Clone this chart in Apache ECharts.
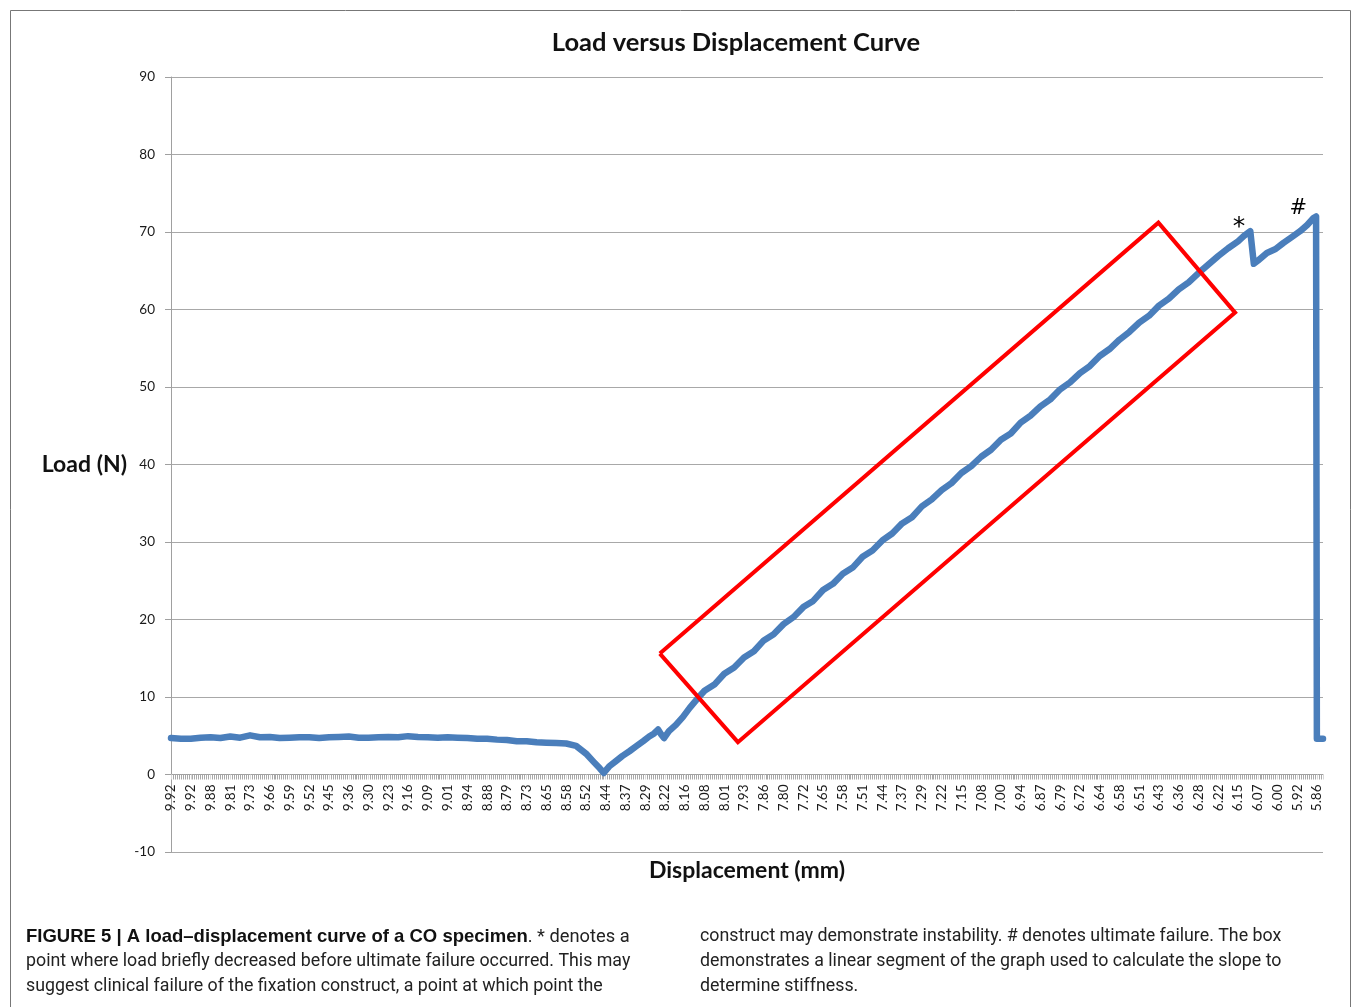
<!DOCTYPE html>
<html><head><meta charset="utf-8">
<script src="https://cdn.jsdelivr.net/npm/echarts@6/dist/echarts.min.js"></script>
<style>html,body{margin:0;padding:0;background:#fff}#c{width:1355px;height:1007px}</style>
</head><body><div id="c"></div>
<script>
// Category tick labels of the displacement axis (mm), one per labelled position
const tickLabels = ['9.92','9.92','9.88','9.81','9.73','9.66','9.59','9.52','9.45','9.36',
  '9.30','9.23','9.16','9.09','9.01','8.94','8.88','8.79','8.73','8.65',
  '8.58','8.52','8.44','8.37','8.29','8.22','8.16','8.08','8.01','7.93',
  '7.86','7.80','7.72','7.65','7.58','7.51','7.44','7.37','7.29','7.22',
  '7.15','7.08','7.00','6.94','6.87','6.79','6.72','6.64','6.58','6.51',
  '6.43','6.36','6.28','6.22','6.15','6.07','6.00','5.92','5.86'];

// Curve: [position along displacement axis (label index units), load (N)]
const curve = [
  [0,4.7],[0.5,4.6],[1,4.6],[1.5,4.75],[2,4.8],[2.5,4.7],[3,4.9],[3.5,4.75],[4,5.05],[4.5,4.8],
  [5,4.85],[5.5,4.7],[6,4.75],[6.5,4.8],[7,4.8],[7.5,4.7],[8,4.8],[8.5,4.85],[9,4.9],[9.5,4.75],
  [10,4.75],[10.5,4.8],[11,4.85],[11.5,4.8],[12,4.95],[12.5,4.85],[13,4.8],[13.5,4.75],[14,4.8],[14.5,4.75],
  [15,4.7],[15.5,4.6],[16,4.6],[16.5,4.5],[17,4.45],[17.5,4.3],[18,4.3],[18.5,4.15],[19,4.1],[19.5,4.05],
  [20,4.0],[20.5,3.7],[21,2.7],[21.4,1.6],[21.7,0.8],[21.9,0.2],[22.2,1.1],[22.5,1.7],[22.85,2.4],[23.2,3.0],
  [23.55,3.65],[23.9,4.3],[24.2,4.9],[24.45,5.3],[24.65,5.8],[24.8,5.2],[24.95,4.7],[25.2,5.6],[25.55,6.4],[25.9,7.4],
  [26.25,8.6],[26.75,10.1],[27,10.8],[27.5,11.6],[28,13.0],[28.5,13.8],[29,15.1],[29.5,15.9],[30,17.3],[30.5,18.1],
  [31,19.4],[31.5,20.3],[32,21.6],[32.5,22.4],[33,23.8],[33.5,24.6],[34,25.9],[34.5,26.7],[35,28.1],[35.5,28.9],
  [36,30.2],[36.5,31.1],[37,32.4],[37.5,33.2],[38,34.6],[38.5,35.5],[39,36.7],[39.5,37.6],[40,38.9],[40.5,39.8],
  [41,41.0],[41.5,41.9],[42,43.2],[42.5,44.0],[43,45.4],[43.5,46.3],[44,47.5],[44.5,48.4],[45,49.7],[45.5,50.6],
  [46,51.8],[46.5,52.7],[47,54.0],[47.5,54.9],[48,56.1],[48.5,57.1],[49,58.3],[49.5,59.2],[50,60.5],[50.5,61.4],
  [51,62.6],[51.5,63.5],[52,64.7],[52.5,65.8],[53,66.9],[53.5,67.9],[54,68.8],[54.3,69.5],[54.62,70.1],[54.8,65.9],
  [55,66.3],[55.46,67.3],[55.9,67.8],[56.3,68.6],[56.7,69.3],[57.14,70.1],[57.5,70.9],[57.82,71.8],[57.95,72.0],[57.99,4.6],
  [58.3,4.6]
];

// Red box marking the linear segment (corners in axis units)
const boxX = [24.74, 49.97, 53.85, 28.69, 24.74];
const boxY = [15.6, 71.2, 59.6, 4.17, 15.6];

// Annotation marks
const noteText = ['*', '#'];
const noteX = [54.05, 57.05];
const noteY = [70.6, 73.0];

// Load axis range
const yMin = -10, yMax = 90, yStep = 10;

const chart = echarts.init(document.getElementById('c'), null, {renderer: 'canvas'});
const axisGray = '#a0a0a0';
const txt = '#1a1a1a';
const capFont = 'Roboto';
const capBoldFont = 'Liberation Sans';
const capSize = 17.8;
const gridTop = 77, gridBottom = 155;
const plotH = 1007 - gridTop - gridBottom;
// place the displacement axis on the zero load line
const zeroOffset = -plotH * (0 - yMin) / (yMax - yMin);

function capLine(x, y, text) {
  return {type: 'text', x: x, y: y, style: {text: text, fontFamily: capFont, fontSize: capSize, fill: '#222', verticalAlign: 'middle',
    rich: {b: {fontFamily: capBoldFont, fontSize: 18.5, fontWeight: 'bold', fill: '#111'}, r: {fontFamily: capFont, fontSize: 18.3, fill: '#222'}}}};
}

chart.setOption({
  animation: false,
  backgroundColor: '#fff',
  title: {
    text: 'Load versus Displacement Curve',
    left: 731, top: 25, textAlign: 'center',
    textStyle: {fontFamily: 'Lato', fontWeight: 'bold', fontSize: 25.5, color: '#111'}
  },
  grid: {left: 171, right: 32, top: gridTop, bottom: gridBottom, containLabel: false},
  xAxis: {
    type: 'value', min: 0, max: 58.3, interval: 1, position: 'bottom', offset: zeroOffset,
    name: 'Displacement (mm)', nameLocation: 'middle', nameGap: 85, nameMoveOverlap: false,
    nameTextStyle: {fontFamily: 'Lato', fontWeight: 'bold', fontSize: 23, color: '#111'},
    axisLine: {show: true, onZero: false, lineStyle: {color: axisGray, width: 1}},
    axisTick: {show: true, length: 5, lineStyle: {color: '#d6d6d6'}},
    minorTick: {show: true, splitNumber: 10, length: 5, lineStyle: {color: '#a8a8a8'}},
    splitLine: {show: false},
    axisLabel: {
      rotate: 90, margin: 10, fontFamily: 'Lato', fontSize: 13.5, color: txt,
      formatter: function (v) { return Number.isInteger(v) && tickLabels[v] !== undefined ? tickLabels[v] : ''; }
    }
  },
  yAxis: {
    type: 'value', min: yMin, max: yMax, interval: yStep,
    name: 'Load (N)', nameLocation: 'middle', nameRotate: 0, nameGap: 44,
    nameTextStyle: {fontFamily: 'Lato', fontWeight: 'bold', fontSize: 23, color: '#111', padding: [6, 0, 0, 0]},
    axisLine: {show: true, lineStyle: {color: axisGray, width: 1}},
    axisTick: {show: true, length: 6, lineStyle: {color: axisGray}},
    axisLabel: {margin: 16, fontFamily: 'Lato', fontSize: 13.5, color: txt},
    splitLine: {show: true, lineStyle: {color: '#a8a8a8', width: 1}}
  },
  series: [
    {
      type: 'line', name: 'Load', data: curve, showSymbol: false, symbol: 'none',
      lineStyle: {color: '#4a7ebb', width: 6.5, join: 'round', cap: 'round'},
      markPoint: {
        symbol: 'circle', symbolSize: 1, itemStyle: {color: 'rgba(0,0,0,0)'},
        data: noteText.map(function (t, i) {
          return {coord: [noteX[i], noteY[i]], label: {show: true, position: 'inside', formatter: t,
            fontFamily: 'DejaVu Sans', fontSize: t === '*' ? 25 : 21, color: '#000'}};
        })
      }
    },
    {
      type: 'line', name: 'Linear segment', data: boxX.map(function (x, i) { return [x, boxY[i]]; }),
      showSymbol: false, symbol: 'none', z: 3,
      lineStyle: {color: '#ff0000', width: 4, join: 'miter'}
    }
  ],
  graphic: [
    {type: 'rect', shape: {x: 10.5, y: 10.5, width: 1340, height: 1010}, style: {fill: 'none', stroke: '#777', lineWidth: 1}, silent: true},
    capLine(26, 937, '{b|FIGURE 5 | A load–displacement curve of a CO specimen}{r|. * denotes a}'),
    capLine(26, 962, 'point where load briefly decreased before ultimate failure occurred. This may'),
    capLine(26, 987, 'suggest clinical failure of the fixation construct, a point at which point the'),
    capLine(700, 937, 'construct may demonstrate instability. # denotes ultimate failure. The box'),
    capLine(700, 962, 'demonstrates a linear segment of the graph used to calculate the slope to'),
    capLine(700, 987, 'determine stiffness.')
  ]
});
</script>
</body></html>
